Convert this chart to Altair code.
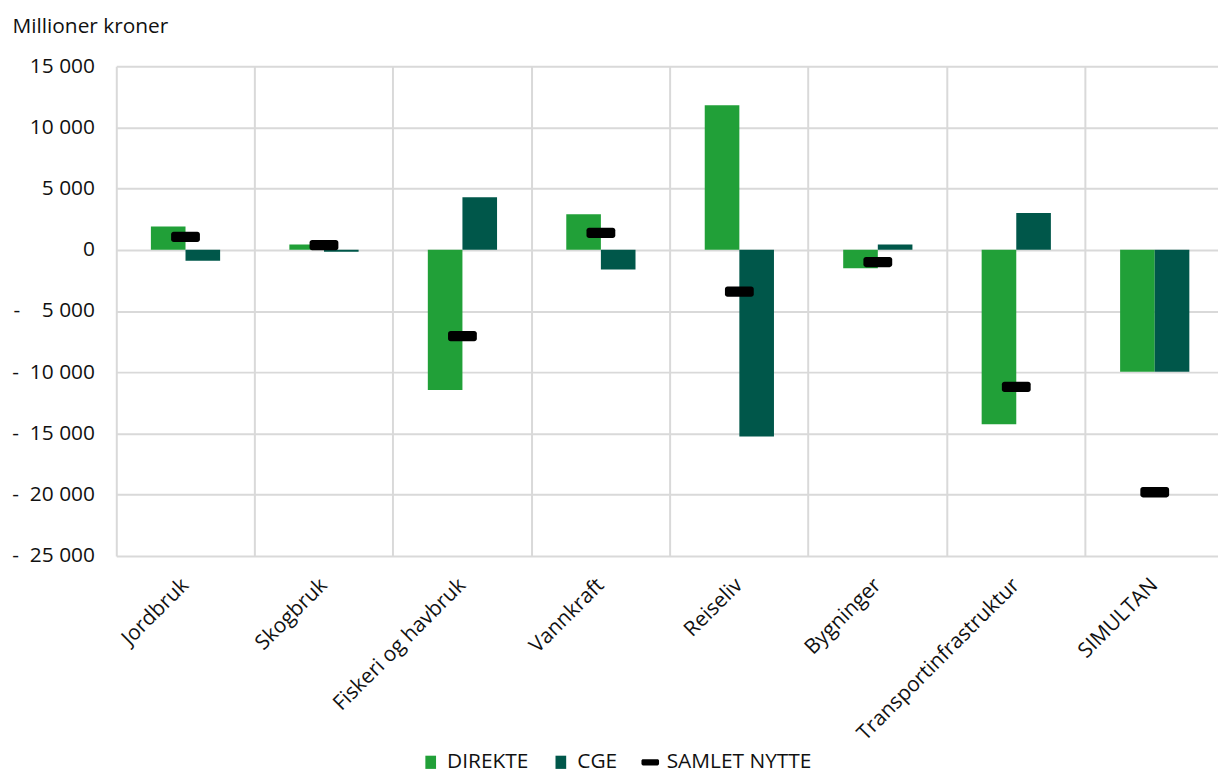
import altair as alt
import pandas as pd

categories = ["Jordbruk", "Skogbruk", "Fiskeri og havbruk", "Vannkraft", "Reiseliv",
              "Bygninger", "Transportinfrastruktur", "SIMULTAN"]
direkte = [1900, 430, -11450, 2900, 11800, -1500, -14250, -9950]
cge = [-900, -150, 4300, -1600, -15250, 430, 3000, -9950]
samlet = [1050, 380, -7050, 1380, -3420, -1000, -11200, -19800]

series_names = ["DIREKTE", "CGE", "SAMLET NYTTE"]
series_colors = ["#21A038", "#00574A", "#000000"]
y_ticks = [15000, 10000, 5000, 0, -5000, -10000, -15000, -20000, -25000]

FONT = "Open Sans"
FS = 21
SQUARE = "M-0.85,-1.05L0.85,-1.05L0.85,1.05L-0.85,1.05Z"
DASH = ("M-1.15,-0.5L1.15,-0.5A0.25,0.25 0 0 1 1.4,-0.25L1.4,0.25"
        "A0.25,0.25 0 0 1 1.15,0.5L-1.15,0.5A0.25,0.25 0 0 1 -1.4,0.25"
        "L-1.4,-0.25A0.25,0.25 0 0 1 -1.15,-0.5Z")

bars_df = pd.DataFrame(
    [{"cat": c, "series": "DIREKTE", "value": v} for c, v in zip(categories, direkte)]
    + [{"cat": c, "series": "CGE", "value": v} for c, v in zip(categories, cge)]
)
tot_df = pd.DataFrame({"cat": categories, "series": "SAMLET NYTTE", "value": samlet})

W, H = 1109, 493
X_RANGE = 1115

legend = alt.Legend(
    title=None, orient="none", direction="horizontal", legendX=306, legendY=690,
    labelFontSize=FS, labelFont=FONT, labelColor="#111111", symbolSize=160,
    symbolStrokeWidth=0, symbolOpacity=1, columnPadding=22, labelOffset=6,
)

color = alt.Color("series:N", scale=alt.Scale(domain=series_names, range=series_colors),
                  legend=legend)

x_enc = alt.X(
    "cat:N", sort=categories, title=None,
    scale=alt.Scale(domain=categories, paddingInner=0, paddingOuter=0, range=[0, X_RANGE]),
    axis=alt.Axis(
        labelAngle=-45, labelAlign="right", labelBaseline="middle",
        labelFontSize=FS, labelFont=FONT, labelColor="#111111",
        labelPadding=26, labelLimit=400, bandPosition=0,
        ticks=False, tickSize=0, domain=False,
        grid=True, gridColor="#D9D9D9", gridWidth=2,
    ),
)

NB = "\u00a0"
y_enc = alt.Y(
    "value:Q", title="Millioner kroner",
    scale=alt.Scale(domain=[-25000, 15000], nice=False, zero=False),
    axis=alt.Axis(
        values=y_ticks,
        labelExpr=(
            f"datum.value < 0 ? (abs(datum.value) < 10000 ? '-{NB*4}' : '-{NB*2}') + "
            "replace(format(abs(datum.value), ','), ',', ' ') : "
            "replace(format(datum.value, ','), ',', ' ')"
        ),
        labelFontSize=FS, labelFont=FONT, labelColor="#111111", labelPadding=22,
        ticks=False, tickSize=0, domain=False,
        grid=True, gridColor="#D9D9D9", gridWidth=2,
        titleAngle=0, titleAlign="left", titleBaseline="alphabetic",
        titleX=-105, titleY=-34, titleFontSize=FS, titleFont=FONT,
        titleFontWeight="normal", titleColor="#111111",
    ),
)

bars = alt.Chart(bars_df).mark_bar().encode(
    x=x_enc,
    xOffset=alt.XOffset("series:N", sort=["DIREKTE", "CGE"],
                        scale=alt.Scale(domain=["DIREKTE", "CGE"], paddingInner=0, paddingOuter=1)),
    y=y_enc,
    color=color,
)

totals = alt.Chart(tot_df).mark_point(filled=True, opacity=1, strokeWidth=0).encode(
    x=x_enc,
    y=y_enc,
    color=color,
    shape=alt.Shape("series:N",
                    scale=alt.Scale(domain=series_names, range=[SQUARE, SQUARE, DASH]),
                    legend=legend),
    size=alt.value(429),
)

chart = alt.layer(bars, totals).properties(
    width=W, height=H,
    autosize=alt.AutoSizeParams(type="none"),
    padding={"left": 109, "top": 56, "right": 0, "bottom": 217},
    background="white",
).configure_view(stroke=None)

chart.save("out.html", embed_options={"renderer": "svg", "actions": False})
